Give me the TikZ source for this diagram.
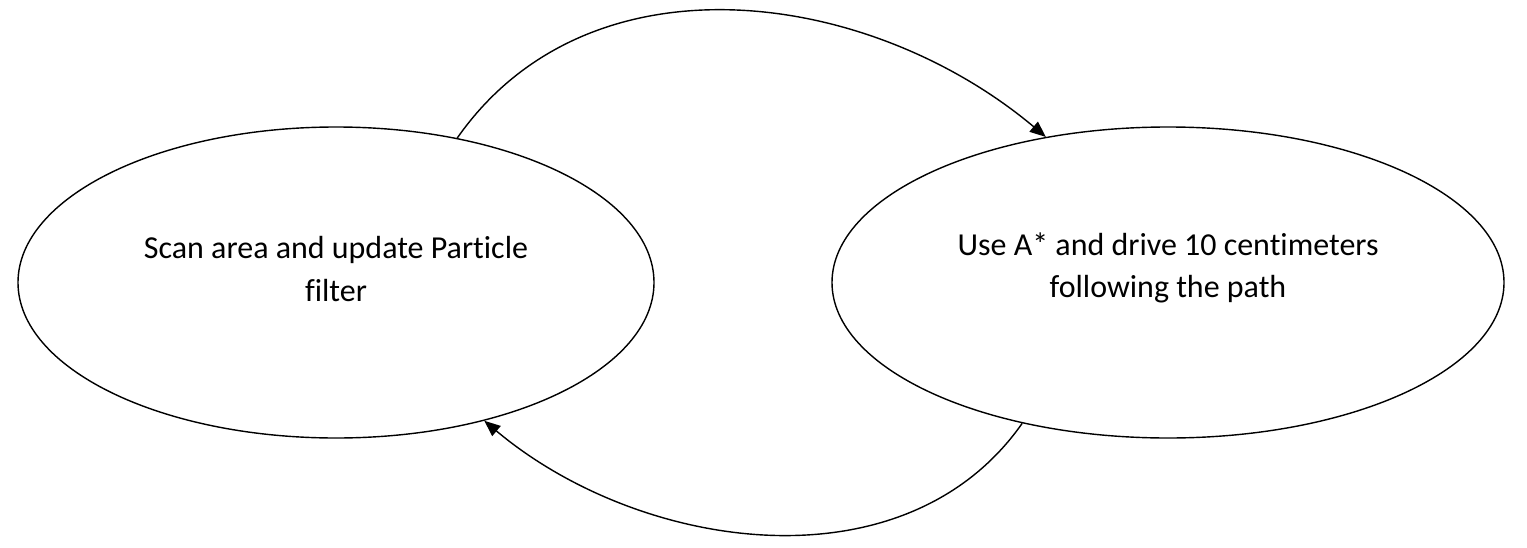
\documentclass[tikz,border=0pt]{standalone}
\usepackage{fontspec}
\setmainfont{Carlito}[Ligatures={NoCommon}]
\usetikzlibrary{arrows.meta, positioning, calc, shapes.geometric}
\tikzset{
    stage/.style={ellipse, draw=black, line width=0.8pt, fill=white, inner sep=0pt, minimum height=6.22cm},
    caption/.style={align=center, font=\fontsize{18.2}{24}\selectfont},
    loop/.style={-{Triangle[length=3.2mm, width=2.6mm]}, line width=0.8pt, draw=black}
}
\begin{document}
\begin{tikzpicture}
    \useasboundingbox (0,0) rectangle (30.54,-10.94);
    \node[stage, minimum width=12.72cm] (scan) at (6.72,-5.65) {};
    \node[stage, minimum width=13.44cm] (drive) at (23.36,-5.65) {};
    \node[caption] (scantext) at ($(scan.center)+(0,0.27)$) {Scan area and update Particle\\filter};
    \node[caption] (drivetext) at ($(drive.center)+(0,0.3)$) {Use A* and drive 10 centimeters\\following the path};

    \draw[loop] (scan.50) to[out=55, in=140] (drive.130);
    \draw[loop] (drive.224) to[out=235, in=-40, looseness=0.97] (scan.-43);
\end{tikzpicture}
\end{document}
